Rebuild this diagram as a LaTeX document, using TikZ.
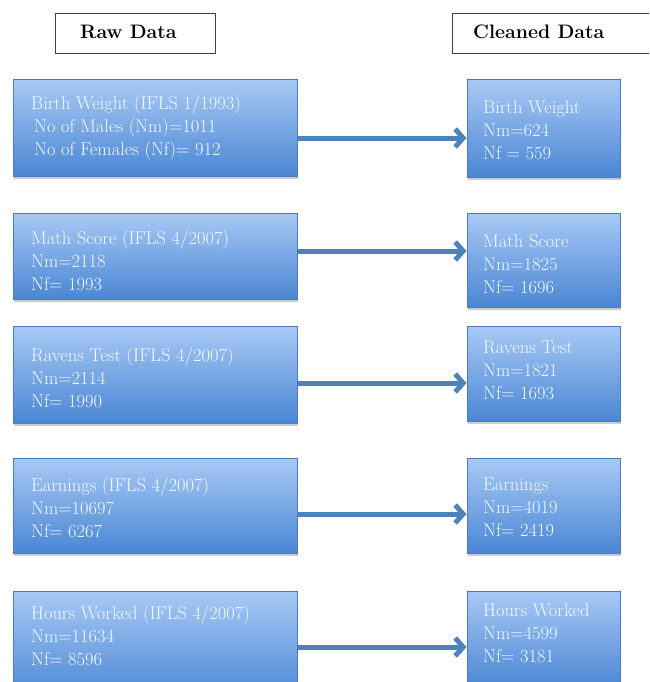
\documentclass[tikz,border=0pt]{standalone}
\usetikzlibrary{arrows.meta,shadows}
\definecolor{boxtop}{RGB}{168,201,245}
\definecolor{boxbot}{RGB}{74,134,212}
\definecolor{boxline}{RGB}{79,122,184}
\definecolor{arrowc}{RGB}{79,129,189}
\definecolor{txt}{RGB}{242,249,255}
\begin{document}
\begin{tikzpicture}[x=1pt,y=-1pt,
  bluebox/.style={draw=boxline, line width=1pt, top color=boxtop, bottom color=boxbot,
    inner sep=0pt, drop shadow={shadow xshift=1pt, shadow yshift=-3pt, opacity=0.2, fill=black}},
  boxtext/.style={anchor=west, align=left, inner sep=0pt, text=txt,
    font=\fontsize{18.5}{23}\selectfont},
  headbox/.style={draw=black!75, line width=0.9pt, fill=white, inner sep=0pt},
  headtext/.style={anchor=west, inner sep=0pt, font=\fontsize{19.5}{22}\selectfont\bfseries},
  flow/.style={draw=arrowc, line width=5pt, -{Straight Barb[length=8pt,width=18pt]}}]
\useasboundingbox (0,0) rectangle (649,682);
\clip (0,0) rectangle (649,682);
\fill[white] (0,0) rectangle (649,682);

% headers
\node[headbox, minimum width=160pt, minimum height=40pt] (RawH) at (135,33) {};
\node[headtext] (RawHt) at (80,32) {Raw Data};
\node[headbox, minimum width=200pt, minimum height=40pt] (CleanH) at (552,33) {};
\node[headtext] (CleanHt) at (473,32) {Cleaned Data};

% left boxes
\node[bluebox, minimum width=284pt, minimum height=96pt] (L1) at (155,128) {};
\node[bluebox, minimum width=284pt, minimum height=86pt] (L2) at (155,256) {};
\node[bluebox, minimum width=284pt, minimum height=97pt] (L3) at (155,374.5) {};
\node[bluebox, minimum width=284pt, minimum height=95pt] (L4) at (155,505.5) {};
\node[bluebox, minimum width=284pt, minimum height=109pt] (L5) at (155,645.5) {};

% right boxes
\node[bluebox, minimum width=153pt, minimum height=97pt] (R1) at (543.5,128.5) {};
\node[bluebox, minimum width=153pt, minimum height=94pt] (R2) at (543.5,260) {};
\node[bluebox, minimum width=153pt, minimum height=95pt] (R3) at (543.5,373.5) {};
\node[bluebox, minimum width=153pt, minimum height=95pt] (R4) at (543.5,505.5) {};
\node[bluebox, minimum width=153pt, minimum height=97pt] (R5) at (543.5,639.5) {};

% texts
\node[boxtext] (L1t) at (31,128) {Birth Weight (IFLS 1/1993)\\\hspace*{3pt}No of Males (Nm)=1011\\\hspace*{3pt}No of Females (Nf)= 912};
\node[boxtext] (L2t) at (31,261) {Math Score (IFLS 4/2007)\\Nm=2118\\Nf= 1993};
\node[boxtext] (L3t) at (31,378) {Ravens Test (IFLS 4/2007)\\Nm=2114\\Nf= 1990};
\node[boxtext] (L4t) at (31,508) {Earnings (IFLS 4/2007)\\Nm=10697\\Nf= 6267};
\node[boxtext] (L5t) at (31,636) {Hours Worked (IFLS 4/2007)\\Nm=11634\\Nf= 8596};

\node[boxtext] (R1t) at (483,130) {Birth Weight\\Nm=624\\Nf = 559};
\node[boxtext] (R2t) at (483,264) {Math Score\\Nm=1825\\Nf= 1696};
\node[boxtext] (R3t) at (483,370) {Ravens Test\\Nm=1821\\Nf= 1693};
\node[boxtext] (R4t) at (483,507) {Earnings\\Nm=4019\\Nf= 2419};
\node[boxtext] (R5t) at (483,633) {Hours Worked\\Nm=4599\\Nf= 3181};

% arrows
\coordinate (a1) at ([yshift=-10pt]L1.east);
\coordinate (a2) at ([yshift=5pt]L2.east);
\coordinate (a3) at ([yshift=-8.5pt]L3.east);
\coordinate (a4) at ([yshift=-8.5pt]L4.east);
\coordinate (a5) at ([yshift=-1.5pt]L5.east);
\draw[flow] (a1) -- (a1 -| R1.west);
\draw[flow] (a2) -- (a2 -| R2.west);
\draw[flow] (a3) -- (a3 -| R3.west);
\draw[flow] (a4) -- (a4 -| R4.west);
\draw[flow] (a5) -- (a5 -| R5.west);
\end{tikzpicture}
\end{document}
